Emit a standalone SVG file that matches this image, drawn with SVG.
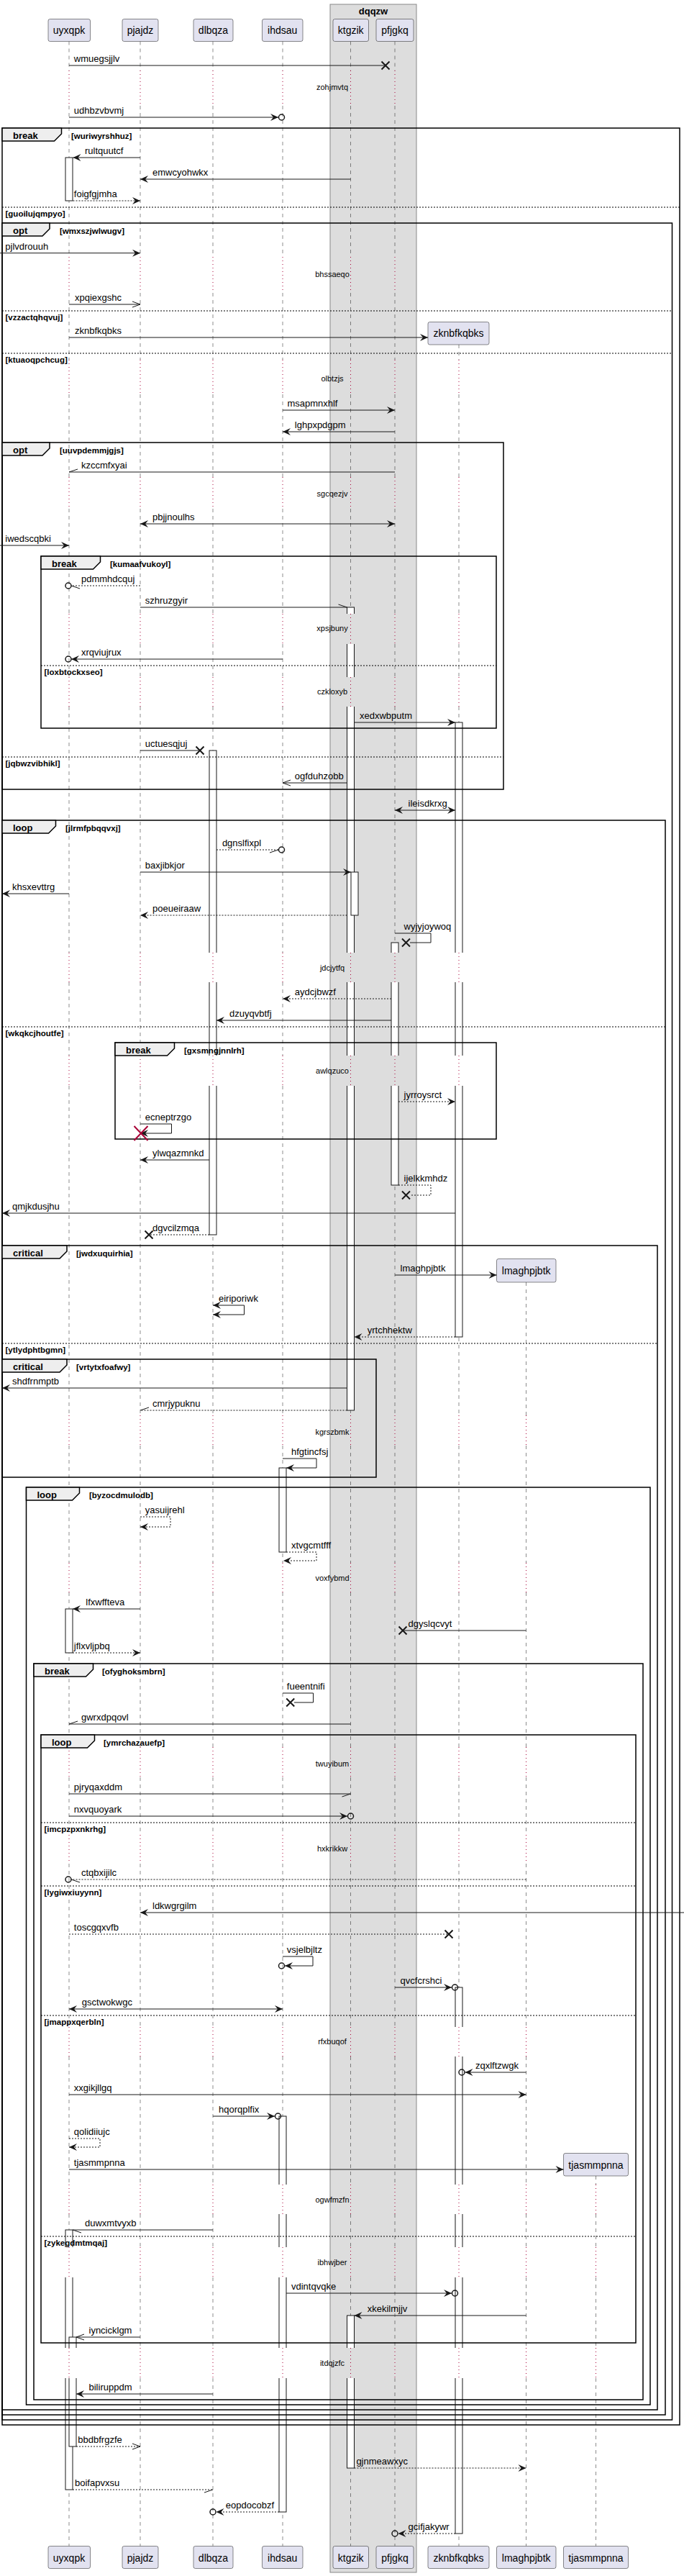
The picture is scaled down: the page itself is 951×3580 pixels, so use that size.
<svg xmlns="http://www.w3.org/2000/svg" width="951" height="3580" viewBox="0 0 951 3580">
<style>
.pb{fill:#E2E2F0;stroke:#181818;stroke-width:0.5}
.pt{font-family:"Liberation Sans",Arial,sans-serif;font-size:14px;fill:#000;text-anchor:middle}
.ll{fill:none;stroke:#181818;stroke-width:0.5;stroke-dasharray:5,5}
.dl{fill:none;stroke:#A80036;stroke-width:1;stroke-dasharray:1,4}
.ac{fill:#fff;stroke:#181818;stroke-width:1}
.ew{fill:#fff}
.eg{fill:#DDDDDD}
.fr{fill:none;stroke:#000;stroke-width:1.5}
.tab{fill:#EEEEEE;stroke:#000;stroke-width:1.5}
.el{stroke:#000;stroke-width:1;stroke-dasharray:2,2}
.ft{font-family:"Liberation Sans",Arial,sans-serif;font-size:13px;font-weight:bold;fill:#000}
.ct{font-family:"Liberation Sans",Arial,sans-serif;font-size:11.5px;font-weight:bold;fill:#000}
.m{fill:none;stroke:#181818;stroke-width:1}
.ds{stroke-dasharray:2,2}
.mt{font-family:"Liberation Sans",Arial,sans-serif;font-size:13px;fill:#000}
.dt{font-family:"Liberation Sans",Arial,sans-serif;font-size:11px;fill:#000;text-anchor:middle}
.x{stroke:#181818;stroke-width:2;fill:none}
.rx{stroke:#A80036;stroke-width:2;fill:none}
.cr{fill:none;stroke:#181818;stroke-width:1.5}
</style>
<defs>
<marker id="f" markerUnits="userSpaceOnUse" markerWidth="1" markerHeight="1" refX="0" refY="0" orient="auto-start-reverse" style="overflow:visible"><path d="M0,0 L-11,-5 L-7,0 L-11,5 Z" fill="#181818"/></marker>
<marker id="o" markerUnits="userSpaceOnUse" markerWidth="1" markerHeight="1" refX="0" refY="0" orient="auto" style="overflow:visible"><path d="M-11,-4 L0,0 L-11,4" fill="none" stroke="#181818" stroke-width="1"/></marker>
<marker id="hu" markerUnits="userSpaceOnUse" markerWidth="1" markerHeight="1" refX="0" refY="0" orient="auto" style="overflow:visible"><path d="M0,0 L-12,-4" fill="none" stroke="#181818" stroke-width="1"/></marker>
<marker id="hd" markerUnits="userSpaceOnUse" markerWidth="1" markerHeight="1" refX="0" refY="0" orient="auto" style="overflow:visible"><path d="M0,0 L-12,4" fill="none" stroke="#181818" stroke-width="1"/></marker>
<path id="la" d="M0,57.5V98M0,147V357M0,407V500M0,548V663M0,707V853M0,895V941M0,982V1324M0,1365V1467M0,1509V1967M0,2009V2172M0,2213V2428M0,2470V2550M0,2590V2817M0,2858V3036M0,3077V3123M0,3165V3263M0,3305V3538.5"/>
<path id="da" d="M0,98V147M0,357V407M0,500V548M0,663V707M0,853V895M0,941V982M0,1324V1365M0,1467V1509M0,1967V2009M0,2172V2213M0,2428V2470M0,2550V2590M0,2817V2858M0,3036V3077M0,3123V3165M0,3263V3305"/>
<path id="lz" d="M0,479V500M0,548V663M0,707V853M0,895V941M0,982V1324M0,1365V1467M0,1509V1967M0,2009V2172M0,2213V2428M0,2470V2550M0,2590V2817M0,2858V3036M0,3077V3123M0,3165V3263M0,3305V3538.5"/>
<path id="dz" d="M0,500V548M0,663V707M0,853V895M0,941V982M0,1324V1365M0,1467V1509M0,1967V2009M0,2172V2213M0,2428V2470M0,2550V2590M0,2817V2858M0,3036V3077M0,3123V3165M0,3263V3305"/>
<path id="lL" d="M0,1782V1967M0,2009V2172M0,2213V2428M0,2470V2550M0,2590V2817M0,2858V3036M0,3077V3123M0,3165V3263M0,3305V3538.5"/>
<path id="dL" d="M0,1967V2009M0,2172V2213M0,2428V2470M0,2550V2590M0,2817V2858M0,3036V3077M0,3123V3165M0,3263V3305"/>
<path id="lT" d="M0,3024V3036M0,3077V3123M0,3165V3263M0,3305V3538.5"/>
<path id="dT" d="M0,3036V3077M0,3123V3165M0,3263V3305"/>
</defs>
<rect width="951" height="3580" fill="#fff"/>
<g id="box-dqqzw">
<rect x="459" y="6" width="120" height="3569" fill="#DDDDDD" stroke="#888" stroke-width="1"/>
<text x="519" y="19.5" class="ft" text-anchor="middle">dqqzw</text>
</g>
<g id="participants">
<g id="p-uyxqpk"><use href="#la" x="96" class="ll"/><rect class="pb" x="67" y="26.5" width="58.5" height="31" rx="2.5"/><text class="pt" x="96" y="47">uyxqpk</text><rect class="pb" x="67" y="3538.5" width="58.5" height="31" rx="2.5"/><text class="pt" x="96" y="3560">uyxqpk</text></g>
<g id="p-pjajdz"><use href="#la" x="195" class="ll"/><rect class="pb" x="170" y="26.5" width="50" height="31" rx="2.5"/><text class="pt" x="195" y="47">pjajdz</text><rect class="pb" x="170" y="3538.5" width="50" height="31" rx="2.5"/><text class="pt" x="195" y="3560">pjajdz</text></g>
<g id="p-dlbqza"><use href="#la" x="296" class="ll"/><rect class="pb" x="269" y="26.5" width="55" height="31" rx="2.5"/><text class="pt" x="296.5" y="47">dlbqza</text><rect class="pb" x="269" y="3538.5" width="55" height="31" rx="2.5"/><text class="pt" x="296.5" y="3560">dlbqza</text></g>
<g id="p-ihdsau"><use href="#la" x="393" class="ll"/><rect class="pb" x="364.5" y="26.5" width="56.5" height="31" rx="2.5"/><text class="pt" x="392.7" y="47">ihdsau</text><rect class="pb" x="364.5" y="3538.5" width="56.5" height="31" rx="2.5"/><text class="pt" x="392.7" y="3560">ihdsau</text></g>
<g id="p-ktgzik"><use href="#la" x="487.5" class="ll"/><rect class="pb" x="463" y="26.5" width="49.5" height="31" rx="2.5"/><text class="pt" x="487.7" y="47">ktgzik</text><rect class="pb" x="463" y="3538.5" width="49.5" height="31" rx="2.5"/><text class="pt" x="487.7" y="3560">ktgzik</text></g>
<g id="p-pfjgkq"><use href="#la" x="549" class="ll"/><rect class="pb" x="523" y="26.5" width="52" height="31" rx="2.5"/><text class="pt" x="549" y="47">pfjgkq</text><rect class="pb" x="523" y="3538.5" width="52" height="31" rx="2.5"/><text class="pt" x="549" y="3560">pfjgkq</text></g>
<g id="p-zknbfkqbks"><use href="#lz" x="638" class="ll"/><rect class="pb" x="595" y="447.5" width="85" height="31.5" rx="2.5"/><text class="pt" x="637.5" y="468">zknbfkqbks</text><rect class="pb" x="595" y="3538.5" width="85" height="31" rx="2.5"/><text class="pt" x="637.5" y="3560">zknbfkqbks</text></g>
<g id="p-lmaghpjbtk"><use href="#lL" x="731.5" class="ll"/><rect class="pb" x="690.5" y="1749.5" width="82.5" height="32.5" rx="2.5"/><text class="pt" x="731.7" y="1771">lmaghpjbtk</text><rect class="pb" x="690.5" y="3538.5" width="82.5" height="31" rx="2.5"/><text class="pt" x="731.7" y="3560">lmaghpjbtk</text></g>
<g id="p-tjasmmpnna"><use href="#lT" x="828.5" class="ll"/><rect class="pb" x="783.5" y="2992.5" width="90" height="31.5" rx="2.5"/><text class="pt" x="828.5" y="3014">tjasmmpnna</text><rect class="pb" x="783.5" y="3538.5" width="90" height="31" rx="2.5"/><text class="pt" x="828.5" y="3560">tjasmmpnna</text></g>
</g>
<g id="activations">
<rect class="ac" x="91" y="219" width="10" height="60"/>
<rect class="ac" x="482.5" y="844" width="10" height="1116"/>
<rect class="ac" x="488" y="1212" width="10" height="60"/>
<rect class="ac" x="633" y="1004" width="10" height="854"/>
<rect class="ac" x="291" y="1043" width="10" height="673"/>
<rect class="ac" x="544" y="1310" width="10" height="337"/>
<rect class="ac" x="388" y="2040" width="10" height="117"/>
<rect class="ac" x="91" y="2236" width="10" height="61"/>
<rect class="ac" x="633" y="2762" width="10" height="759"/>
<rect class="ac" x="388" y="2941" width="10" height="550"/>
<rect class="ac" x="91" y="3099" width="10" height="361"/>
<rect class="ac" x="482.5" y="3218" width="10" height="212"/>
<rect class="ac" x="96" y="3248" width="10" height="152"/>
<rect class="eg" x="481.5" y="853" width="12" height="42"/>
<rect class="eg" x="481.5" y="941" width="12" height="41"/>
<rect class="eg" x="481.5" y="1324" width="12" height="41"/>
<rect class="eg" x="481.5" y="1467" width="12" height="42"/>
<rect class="eg" x="481.5" y="3263" width="12" height="42"/>
<rect class="eg" x="543" y="1324" width="12" height="41"/>
<rect class="eg" x="543" y="1467" width="12" height="42"/>
<rect class="ew" x="632" y="1324" width="12" height="41"/>
<rect class="ew" x="632" y="1467" width="12" height="42"/>
<rect class="ew" x="290" y="1324" width="12" height="41"/>
<rect class="ew" x="290" y="1467" width="12" height="42"/>
<rect class="ew" x="632" y="2817" width="12" height="41"/>
<rect class="ew" x="632" y="3036" width="12" height="41"/>
<rect class="ew" x="632" y="3123" width="12" height="42"/>
<rect class="ew" x="632" y="3263" width="12" height="42"/>
<rect class="ew" x="387" y="3036" width="12" height="41"/>
<rect class="ew" x="387" y="3123" width="12" height="42"/>
<rect class="ew" x="387" y="3263" width="12" height="42"/>
<rect class="ew" x="90" y="3123" width="12" height="42"/>
<rect class="ew" x="90" y="3263" width="17" height="42"/>
</g>
<g id="delays">
<use href="#da" x="96" class="dl"/><use href="#da" x="195" class="dl"/><use href="#da" x="296" class="dl"/><use href="#da" x="393" class="dl"/><use href="#da" x="487.5" class="dl"/><use href="#da" x="549" class="dl"/><use href="#dz" x="638" class="dl"/><use href="#dL" x="731.5" class="dl"/><use href="#dT" x="828.5" class="dl"/>
<text class="dt" x="462" y="125">zohjmvtq</text>
<text class="dt" x="462" y="385">bhssaeqo</text>
<text class="dt" x="462" y="530">olbtzjs</text>
<text class="dt" x="462" y="690">sgcqezjv</text>
<text class="dt" x="462" y="877">xpsjbuny</text>
<text class="dt" x="462" y="965">czkloxyb</text>
<text class="dt" x="462" y="1349">jdcjytfq</text>
<text class="dt" x="462" y="1492">awlqzuco</text>
<text class="dt" x="462" y="1994">kgrszbmk</text>
<text class="dt" x="462" y="2197">voxfybmd</text>
<text class="dt" x="462" y="2455">twuyibum</text>
<text class="dt" x="462" y="2573">hxkrikkw</text>
<text class="dt" x="462" y="2841">rfxbuqof</text>
<text class="dt" x="462" y="3061">ogwfmzfn</text>
<text class="dt" x="462" y="3148">ibhwjber</text>
<text class="dt" x="462" y="3288">itdqjzfc</text>
</g>
<g id="frames">
<g id="f-wuriwyrshhuz"><rect class="fr" x="3" y="178" width="942" height="3192"/><polygon class="tab" points="3,178 85.5,178 85.5,186 75.5,196 3,196"/><text class="ft" x="18" y="193">break</text><text class="ct" x="99" y="192.5">[wuriwyrshhuz]</text><line class="el" x1="3" y1="288" x2="945" y2="288"/><text class="ct" x="7.5" y="301">[guoilujqmpyo]</text></g>
<g id="f-wmxszjwlwugv"><rect class="fr" x="3" y="310" width="931.5" height="3053"/><polygon class="tab" points="3,310 69,310 69,318 59,328 3,328"/><text class="ft" x="18" y="325">opt</text><text class="ct" x="83" y="324.5">[wmxszjwlwugv]</text><line class="el" x1="3" y1="432" x2="934.5" y2="432"/><text class="ct" x="7.5" y="445">[vzzactqhqvuj]</text><line class="el" x1="3" y1="491" x2="934.5" y2="491"/><text class="ct" x="7.5" y="504">[ktuaoqpchcug]</text></g>
<g id="f-uuvpdemmjgjs"><rect class="fr" x="3" y="615" width="697" height="482"/><polygon class="tab" points="3,615 69,615 69,623 59,633 3,633"/><text class="ft" x="18" y="630">opt</text><text class="ct" x="83" y="629.5">[uuvpdemmjgjs]</text><line class="el" x1="3" y1="1052" x2="700" y2="1052"/><text class="ct" x="7.5" y="1065">[jqbwzvibhikl]</text></g>
<g id="f-kumaafvukoyl"><rect class="fr" x="57" y="773" width="633" height="239"/><polygon class="tab" points="57,773 139.5,773 139.5,781 129.5,791 57,791"/><text class="ft" x="72" y="788">break</text><text class="ct" x="153" y="787.5">[kumaafvukoyl]</text><line class="el" x1="57" y1="925" x2="690" y2="925"/><text class="ct" x="61.5" y="938">[loxbtockxseo]</text></g>
<g id="f-jlrmfpbqqvxj"><rect class="fr" x="3" y="1140" width="922" height="2216"/><polygon class="tab" points="3,1140 77.5,1140 77.5,1148 67.5,1158 3,1158"/><text class="ft" x="18" y="1155">loop</text><text class="ct" x="91" y="1154.5">[jlrmfpbqqvxj]</text><line class="el" x1="3" y1="1427" x2="925" y2="1427"/><text class="ct" x="7.5" y="1440">[wkqkcjhoutfe]</text></g>
<g id="f-gxsmngjnnlrh"><rect class="fr" x="160" y="1449" width="530" height="134"/><polygon class="tab" points="160,1449 242.5,1449 242.5,1457 232.5,1467 160,1467"/><text class="ft" x="175" y="1464">break</text><text class="ct" x="256" y="1463.5">[gxsmngjnnlrh]</text></g>
<g id="f-jwdxuquirhia"><rect class="fr" x="3" y="1731" width="911" height="1618"/><polygon class="tab" points="3,1731 93,1731 93,1739 83,1749 3,1749"/><text class="ft" x="18" y="1746">critical</text><text class="ct" x="106" y="1745.5">[jwdxuquirhia]</text><line class="el" x1="3" y1="1867" x2="914" y2="1867"/><text class="ct" x="7.5" y="1880">[ytlydphtbgmn]</text></g>
<g id="f-vrtytxfoafwy"><rect class="fr" x="3" y="1889" width="520" height="164"/><polygon class="tab" points="3,1889 93,1889 93,1897 83,1907 3,1907"/><text class="ft" x="18" y="1904">critical</text><text class="ct" x="106" y="1903.5">[vrtytxfoafwy]</text></g>
<g id="f-byzocdmulodb"><rect class="fr" x="36.5" y="2067" width="867.5" height="1275"/><polygon class="tab" points="36.5,2067 110.5,2067 110.5,2075 100.5,2085 36.5,2085"/><text class="ft" x="51.5" y="2082">loop</text><text class="ct" x="124" y="2081.5">[byzocdmulodb]</text></g>
<g id="f-ofyghoksmbrn"><rect class="fr" x="47" y="2312" width="847" height="1023"/><polygon class="tab" points="47,2312 129.5,2312 129.5,2320 119.5,2330 47,2330"/><text class="ft" x="62" y="2327">break</text><text class="ct" x="142" y="2326.5">[ofyghoksmbrn]</text></g>
<g id="f-ymrchazauefp"><rect class="fr" x="57" y="2411" width="827" height="845"/><polygon class="tab" points="57,2411 131.5,2411 131.5,2419 121.5,2429 57,2429"/><text class="ft" x="72" y="2426">loop</text><text class="ct" x="144" y="2425.5">[ymrchazauefp]</text><line class="el" x1="57" y1="2533" x2="884" y2="2533"/><text class="ct" x="61.5" y="2546">[imcpzpxnkrhg]</text><line class="el" x1="57" y1="2621" x2="884" y2="2621"/><text class="ct" x="61.5" y="2634">[lygiwxiuyynn]</text><line class="el" x1="57" y1="2801" x2="884" y2="2801"/><text class="ct" x="61.5" y="2814">[jmappxqerbln]</text><line class="el" x1="57" y1="3108" x2="884" y2="3108"/><text class="ct" x="61.5" y="3121">[zykegdmtmqaj]</text></g>
</g>
<g id="connectors">
<line class="m" x1="96" y1="91" x2="536" y2="91"/><path class="x" d="M530.5,85.5L541.5,96.5M541.5,85.5L530.5,96.5"/><text class="mt" x="102.8" y="86">wmuegsjjlv</text>
<line class="m" x1="96" y1="163" x2="387" y2="163" marker-end="url(#f)"/><circle class="cr" cx="391.5" cy="163" r="4"/><text class="mt" x="102.8" y="158">udhbzvbvmj</text>
<line class="m" x1="195" y1="219" x2="101.5" y2="219" marker-end="url(#f)"/><text class="mt" x="118" y="214">rultquutcf</text>
<line class="m" x1="487.5" y1="249" x2="195" y2="249" marker-end="url(#f)"/><text class="mt" x="212" y="244">emwcyohwkx</text>
<line class="m ds" x1="101.5" y1="279" x2="195" y2="279" marker-end="url(#f)"/><text class="mt" x="102.8" y="274">foigfgjmha</text>
<line class="m" x1="0" y1="351.7" x2="195" y2="351.7" marker-end="url(#f)"/><text class="mt" x="7.3" y="346.7">pjlvdrouuh</text>
<line class="m" x1="96" y1="423" x2="195" y2="423" marker-end="url(#o)"/><text class="mt" x="104" y="418">xpqiexgshc</text>
<line class="m" x1="96" y1="469" x2="595" y2="469" marker-end="url(#f)"/><text class="mt" x="104" y="464">zknbfkqbks</text>
<line class="m" x1="393" y1="570" x2="549" y2="570" marker-end="url(#f)"/><text class="mt" x="399.4" y="565">msapmnxhlf</text>
<line class="m" x1="549" y1="600" x2="393" y2="600" marker-end="url(#f)"/><text class="mt" x="409.8" y="595">lghpxpdgpm</text>
<line class="m" x1="549" y1="656" x2="96" y2="656" marker-end="url(#hd)"/><text class="mt" x="113" y="651">kzccmfxyai</text>
<line class="m" x1="195" y1="728" x2="549" y2="728" marker-start="url(#f)" marker-end="url(#f)"/><text class="mt" x="212" y="723">pbjjnoulhs</text>
<line class="m" x1="0" y1="758" x2="96" y2="758" marker-end="url(#f)"/><text class="mt" x="7.3" y="753">iwedscqbki</text>
<line class="m ds" x1="195" y1="814" x2="99" y2="814" marker-end="url(#hu)"/><circle class="cr" cx="95" cy="814" r="4"/><text class="mt" x="113" y="809">pdmmhdcquj</text>
<line class="m" x1="195" y1="844" x2="482.5" y2="844" marker-end="url(#hu)"/><text class="mt" x="201.8" y="839">szhruzgyir</text>
<line class="m" x1="393" y1="916" x2="99" y2="916" marker-end="url(#f)"/><circle class="cr" cx="95" cy="916" r="4"/><text class="mt" x="113" y="911">xrqviujrux</text>
<line class="m" x1="492.5" y1="1004" x2="633" y2="1004" marker-end="url(#f)"/><text class="mt" x="500" y="999">xedxwbputm</text>
<line class="m" x1="195" y1="1043" x2="278" y2="1043"/><path class="x" d="M272.5,1037.5L283.5,1048.5M283.5,1037.5L272.5,1048.5"/><text class="mt" x="201.8" y="1038">uctuesqjuj</text>
<line class="m" x1="482.5" y1="1088" x2="393" y2="1088" marker-end="url(#o)"/><text class="mt" x="409.8" y="1083">ogfduhzobb</text>
<line class="m" x1="549" y1="1126" x2="633" y2="1126" marker-start="url(#f)" marker-end="url(#f)"/><text class="mt" x="567.6" y="1121">ileisdkrxg</text>
<line class="m ds" x1="301" y1="1181" x2="387" y2="1181" marker-end="url(#hd)"/><circle class="cr" cx="391.5" cy="1181" r="4"/><text class="mt" x="308.9" y="1176">dgnslfixpl</text>
<line class="m" x1="195" y1="1212" x2="488" y2="1212" marker-end="url(#f)"/><text class="mt" x="201.8" y="1207">baxjibkjor</text>
<line class="m" x1="96" y1="1242" x2="3" y2="1242" marker-end="url(#f)"/><text class="mt" x="17" y="1237">khsxevttrg</text>
<line class="m ds" x1="482.5" y1="1272" x2="195" y2="1272" marker-end="url(#f)"/><text class="mt" x="212" y="1267">poeueiraaw</text>
<path class="m" d="M549,1297H599V1310H570"/><path class="x" d="M559,1304.5L570,1315.5M570,1304.5L559,1315.5"/><text class="mt" x="561.5" y="1292">wyjyjoywoq</text>
<line class="m ds" x1="544" y1="1388" x2="393" y2="1388" marker-end="url(#f)"/><text class="mt" x="409.8" y="1383">aydcjbwzf</text>
<line class="m" x1="544" y1="1418" x2="301" y2="1418" marker-end="url(#f)"/><text class="mt" x="319" y="1413">dzuyqvbtfj</text>
<line class="m ds" x1="554" y1="1531" x2="633" y2="1531" marker-end="url(#f)"/><text class="mt" x="561.5" y="1526">jyrroysrct</text>
<path class="m" d="M195,1562H238.5V1575H195" marker-end="url(#f)"/><path class="rx" d="M186.5,1565L205.5,1585M205.5,1565L186.5,1585"/><text class="mt" x="201.8" y="1557">ecneptrzgo</text>
<line class="m" x1="291" y1="1612" x2="195" y2="1612" marker-end="url(#f)"/><text class="mt" x="212" y="1607">ylwqazmnkd</text>
<path class="m ds" d="M554,1647H599V1661H570"/><path class="x" d="M559,1655.5L570,1666.5M570,1655.5L559,1666.5"/><text class="mt" x="561.5" y="1642">ijelkkmhdz</text>
<line class="m" x1="633" y1="1686" x2="3" y2="1686" marker-end="url(#f)"/><text class="mt" x="17" y="1681">qmjkdusjhu</text>
<line class="m ds" x1="291" y1="1716" x2="207" y2="1716"/><path class="x" d="M201.5,1710.5L212.5,1721.5M212.5,1710.5L201.5,1721.5"/><text class="mt" x="212" y="1711">dgvcilzmqa</text>
<line class="m" x1="549" y1="1772" x2="690.5" y2="1772" marker-end="url(#f)"/><text class="mt" x="556.6" y="1767">lmaghpjbtk</text>
<path class="m" d="M296,1814H339.5V1827H296" marker-start="url(#f)" marker-end="url(#f)"/><text class="mt" x="304" y="1809">eiriporiwk</text>
<line class="m ds" x1="633" y1="1858" x2="492.5" y2="1858" marker-end="url(#f)"/><text class="mt" x="510.7" y="1853">yrtchhektw</text>
<line class="m" x1="482.5" y1="1929" x2="3" y2="1929" marker-end="url(#f)"/><text class="mt" x="17" y="1924">shdfrnmptb</text>
<line class="m ds" x1="482.5" y1="1960" x2="195" y2="1960" marker-end="url(#hd)"/><text class="mt" x="212" y="1955">cmrjypuknu</text>
<path class="m" d="M393,2027H440V2040H398" marker-end="url(#f)"/><text class="mt" x="405" y="2022">hfgtincfsj</text>
<path class="m ds" d="M195,2108H237V2122H195" marker-end="url(#f)"/><text class="mt" x="201.8" y="2103">yasuijrehl</text>
<path class="m ds" d="M398,2157H440V2169H394" marker-end="url(#f)"/><text class="mt" x="405" y="2152">xtvgcmtfff</text>
<line class="m" x1="195" y1="2236" x2="101" y2="2236" marker-end="url(#f)"/><text class="mt" x="119.3" y="2231">lfxwffteva</text>
<line class="m" x1="731.5" y1="2266" x2="560" y2="2266"/><path class="x" d="M554.5,2260.5L565.5,2271.5M565.5,2260.5L554.5,2271.5"/><text class="mt" x="567.6" y="2261">dgyslqcvyt</text>
<line class="m ds" x1="101" y1="2297" x2="195" y2="2297" marker-end="url(#f)"/><text class="mt" x="102.8" y="2292">jflxvljpbq</text>
<path class="m" d="M393,2353H435.5V2366H409"/><path class="x" d="M398.2,2360.5L409.2,2371.5M409.2,2360.5L398.2,2371.5"/><text class="mt" x="398.8" y="2348">fueentnifi</text>
<line class="m" x1="487.5" y1="2396" x2="96" y2="2396" marker-end="url(#hd)"/><text class="mt" x="113" y="2391">gwrxdpqovl</text>
<line class="m" x1="96" y1="2493" x2="487.5" y2="2493" marker-end="url(#hd)"/><text class="mt" x="102.8" y="2488">pjryqaxddm</text>
<line class="m" x1="96" y1="2524" x2="483" y2="2524" marker-end="url(#f)"/><circle class="cr" cx="487.5" cy="2524" r="4"/><text class="mt" x="102.8" y="2519">nxvquoyark</text>
<line class="m ds" x1="731.5" y1="2612" x2="99" y2="2612" marker-end="url(#hu)"/><circle class="cr" cx="95" cy="2612" r="4"/><text class="mt" x="113" y="2607">ctqbxijilc</text>
<line class="m" x1="951" y1="2658" x2="195" y2="2658" marker-end="url(#f)"/><text class="mt" x="212" y="2653">ldkwgrgilm</text>
<line class="m ds" x1="96" y1="2688" x2="624" y2="2688"/><path class="x" d="M618.5,2682.5L629.5,2693.5M629.5,2682.5L618.5,2693.5"/><text class="mt" x="102.8" y="2683">toscgqxvfb</text>
<path class="m" d="M393,2719H435V2732H396" marker-end="url(#f)"/><circle class="cr" cx="391.5" cy="2732" r="4"/><text class="mt" x="398.8" y="2714">vsjelbjltz</text>
<line class="m" x1="549" y1="2762" x2="628" y2="2762" marker-end="url(#f)"/><circle class="cr" cx="632.5" cy="2762" r="4"/><text class="mt" x="556.6" y="2757">qvcfcrshci</text>
<line class="m" x1="96" y1="2792" x2="393" y2="2792" marker-start="url(#f)" marker-end="url(#f)"/><text class="mt" x="113.8" y="2787">gsctwokwgc</text>
<line class="m" x1="731.5" y1="2880" x2="646.5" y2="2880" marker-end="url(#f)"/><circle class="cr" cx="642" cy="2880" r="4"/><text class="mt" x="661" y="2875">zqxlftzwgk</text>
<line class="m" x1="96" y1="2911" x2="731.5" y2="2911" marker-end="url(#f)"/><text class="mt" x="102.8" y="2906">xxgikjllgq</text>
<line class="m" x1="296" y1="2941" x2="382" y2="2941" marker-end="url(#f)"/><circle class="cr" cx="386.5" cy="2941" r="4"/><text class="mt" x="304" y="2936">hqorqplfix</text>
<path class="m ds" d="M96,2972H139V2984H96" marker-end="url(#f)"/><text class="mt" x="102.8" y="2967">qolidiiujc</text>
<line class="m" x1="96" y1="3015" x2="783.5" y2="3015" marker-end="url(#f)"/><text class="mt" x="102.8" y="3010">tjasmmpnna</text>
<line class="m" x1="296" y1="3099" x2="101" y2="3099" marker-end="url(#hu)"/><text class="mt" x="118" y="3094">duwxmtvyxb</text>
<line class="m" x1="398" y1="3187" x2="628" y2="3187" marker-end="url(#f)"/><circle class="cr" cx="632.5" cy="3187" r="4"/><text class="mt" x="405" y="3182">vdintqvqke</text>
<line class="m" x1="731.5" y1="3218" x2="492.5" y2="3218" marker-end="url(#f)"/><text class="mt" x="510.7" y="3213">xkekilmjjv</text>
<line class="m" x1="195" y1="3248" x2="106" y2="3248" marker-end="url(#o)"/><text class="mt" x="123.5" y="3243">iyncicklgm</text>
<line class="m" x1="296" y1="3327" x2="106" y2="3327" marker-end="url(#f)"/><text class="mt" x="123.5" y="3322">biliruppdm</text>
<line class="m ds" x1="106" y1="3400" x2="195" y2="3400" marker-end="url(#o)"/><text class="mt" x="108.3" y="3395">bbdbfrgzfe</text>
<line class="m ds" x1="492.5" y1="3430" x2="731.5" y2="3430" marker-end="url(#f)"/><text class="mt" x="495.4" y="3425">gjnmeawxyc</text>
<line class="m ds" x1="101" y1="3460" x2="296" y2="3460" marker-end="url(#hd)"/><text class="mt" x="104" y="3455">boifapvxsu</text>
<line class="m ds" x1="388" y1="3491" x2="300.5" y2="3491" marker-end="url(#f)"/><circle class="cr" cx="296" cy="3491" r="4"/><text class="mt" x="313.8" y="3486">eopdocobzf</text>
<line class="m ds" x1="633" y1="3521" x2="553.5" y2="3521" marker-end="url(#f)"/><circle class="cr" cx="549" cy="3521" r="4"/><text class="mt" x="567.6" y="3516">gcifjakywr</text>
</g>
</svg>
